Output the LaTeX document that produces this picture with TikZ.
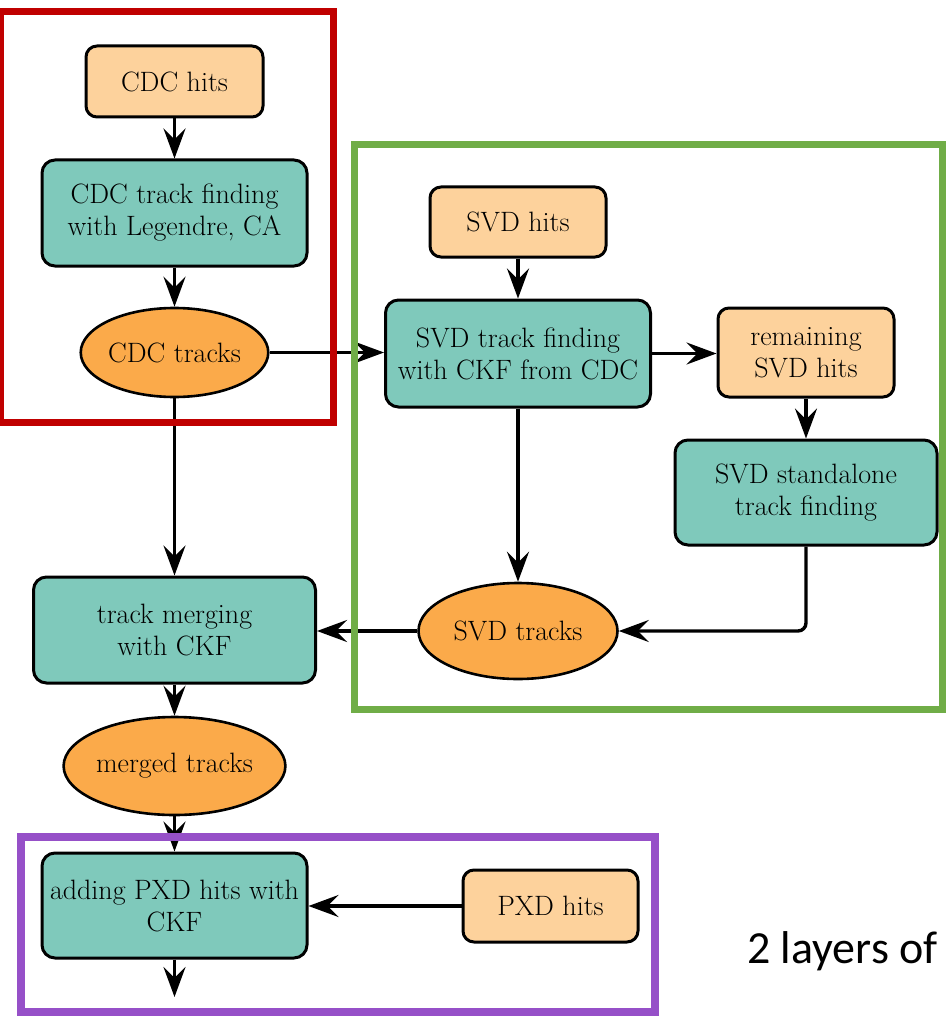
\documentclass[tikz,border=0pt]{standalone}
\usepackage{fontspec}
\newfontfamily\calibfont{Carlito}
\usetikzlibrary{shapes.geometric,arrows.meta}
\definecolor{peach}{HTML}{FDD29C}
\definecolor{tealbox}{HTML}{7FC9BB}
\definecolor{orangeell}{HTML}{FBAA4A}
\definecolor{frred}{HTML}{C00000}
\definecolor{frgreen}{HTML}{70AD47}
\definecolor{frpurple}{HTML}{9650C8}
\begin{document}
\begin{tikzpicture}[x=1pt,y=-1pt,
  boxfont/.style={font=\rmfamily\fontsize{28}{32}\selectfont},
  hitbox/.style={rectangle, draw=black, fill=peach, line width=3pt, rounded corners=11pt, align=center, inner sep=0pt, boxfont},
  procbox/.style={rectangle, draw=black, fill=tealbox, line width=3pt, rounded corners=13pt, align=center, inner sep=0pt, boxfont},
  trackell/.style={ellipse, draw=black, fill=orangeell, line width=2.6pt, inner sep=0pt, boxfont},
  conn/.style={line width=3.4pt, -{Stealth[length=30pt,width=22pt,inset=11pt]}},
  framebox/.style={line width=7.5pt}]
\useasboundingbox (0,0) rectangle (945,1016);

% nodes
\node[hitbox, minimum width=177pt, minimum height=71pt] (cdchits) at (174.5,81.5) {CDC hits};
\node[procbox, minimum width=265pt, minimum height=106pt] (cdcfind) at (174.5,213) {CDC track finding\\with Legendre, CA};
\node[trackell, minimum width=187pt, minimum height=89pt] (cdctr) at (174.5,352.5) {CDC tracks};

\node[hitbox, minimum width=176pt, minimum height=70pt] (svdhits) at (518,222) {SVD hits};
\node[procbox, minimum width=265pt, minimum height=107pt] (svdfind) at (518,353.5) {SVD track finding\\with CKF from CDC};
\node[hitbox, minimum width=176pt, minimum height=89pt] (remain) at (806,352.5) {remaining\\SVD hits};
\node[procbox, minimum width=262pt, minimum height=105pt] (stand) at (806,492.5) {SVD standalone\\track finding};
\node[trackell, minimum width=199pt, minimum height=96pt] (svdtr) at (518,631) {SVD tracks};

\node[procbox, minimum width=282pt, minimum height=106pt] (merge) at (174.5,630) {track merging\\with CKF};
\node[trackell, minimum width=198pt, minimum height=98pt] (merged) at (174.5,766) {merged tracks};

\node[procbox, minimum width=265pt, minimum height=105pt] (addpxd) at (174.5,905.5) {adding PXD hits with\\CKF};
\node[hitbox, minimum width=175pt, minimum height=72pt] (pxd) at (550.5,906) {PXD hits};
\coordinate (pxdout) at (174.5,997);

\node[anchor=base west, inner sep=0pt, font=\calibfont\fontsize{46}{50}\selectfont] (layers) at (747,963) {2 layers of};

% connectors
\draw[conn] (cdchits) -- (cdcfind);
\draw[conn] (cdcfind) -- (cdctr);
\draw[conn] (cdctr.east) -- (cdctr.east -| svdfind.west);
\draw[conn] (cdctr) -- (merge);
\draw[conn] (svdhits) -- (svdfind);
\draw[conn] (svdfind.east) -- (svdfind.east -| remain.west);
\draw[conn] (svdfind) -- (svdtr);
\draw[conn] (remain) -- (stand);
\draw[conn, rounded corners=8pt] (stand.south) |- (svdtr.east);
\draw[conn] (svdtr.west) -- (svdtr.west -| merge.east);
\draw[conn] (merge) -- (merged);
\draw[conn] (merged) -- (addpxd);
\draw[conn] (pxd.west) -- (pxd.west -| addpxd.east);
\draw[conn] (addpxd) -- (pxdout);

% frames
\draw[framebox, draw=frred] (0.5,11.5) rectangle (333.5,422.5);
\draw[framebox, draw=frgreen, line width=7pt] (354,144.5) rectangle (942.5,709);
\draw[framebox, draw=frpurple, line width=8pt] (20.5,837) rectangle (655,1012);
\end{tikzpicture}
\end{document}
